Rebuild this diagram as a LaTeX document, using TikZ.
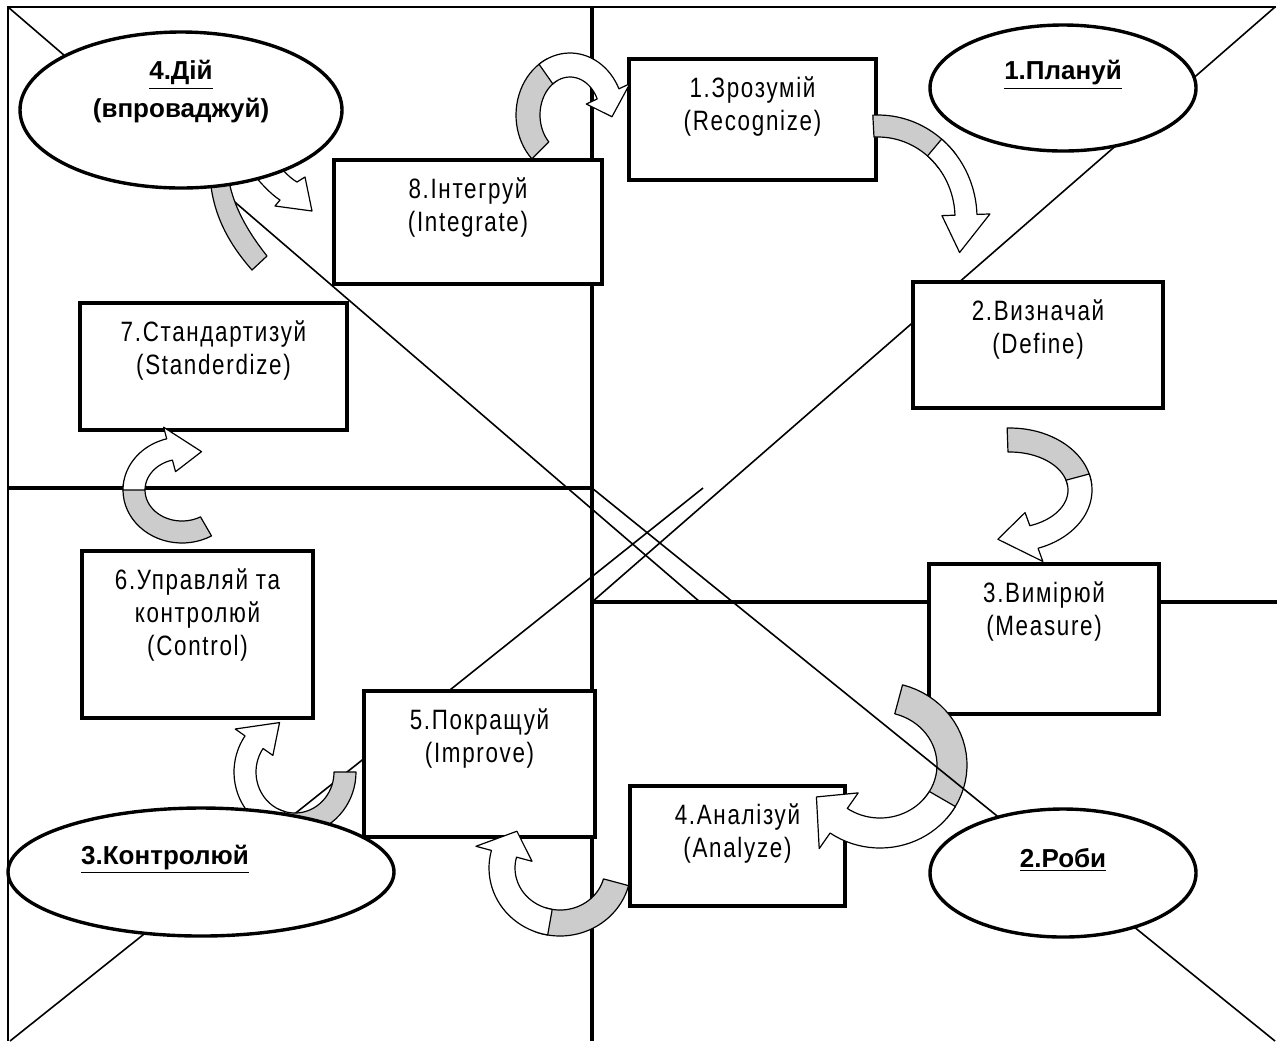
\documentclass[tikz,border=0pt]{standalone}
\usepackage{fontspec}
\setmainfont{Liberation Sans}
\newfontfamily\boxfont[FakeStretch=0.8,LetterSpace=6]{Liberation Sans}
\usepackage{xcolor}
\usetikzlibrary{shapes.geometric, positioning}
\definecolor{twist}{gray}{0.8}
\newcommand\bw{12}
\newcommand\hw{24}
% centre x, centre y, radius x, radius y, start, grey end, white start, head base, tip
\newcommand\curlarrow[9]{%
  \filldraw[band, fill=twist]
    plot[domain=#5:#6] ({#1+(#3+\bw)*cos(\x)},{#2+(#4+\bw)*sin(\x)})
    -- plot[domain=#6:#5] ({#1+(#3-\bw)*cos(\x)},{#2+(#4-\bw)*sin(\x)}) -- cycle;
  \filldraw[band, fill=white]
    plot[domain=#7:#8] ({#1+(#3+\bw)*cos(\x)},{#2+(#4+\bw)*sin(\x)})
    -- ({#1+(#3+\hw)*cos(#8)},{#2+(#4+\hw)*sin(#8)})
    -- ({#1+#3*cos(#9)},{#2+#4*sin(#9)})
    -- ({#1+(#3-\hw)*cos(#8)},{#2+(#4-\hw)*sin(#8)})
    -- plot[domain=#8:#7] ({#1+(#3-\bw)*cos(\x)},{#2+(#4-\bw)*sin(\x)}) -- cycle;
}

\begin{document}
\begin{tikzpicture}[
  x=0.5pt, y=-0.5pt,
  divider/.style={line width=1.6pt},
  hair/.style={line width=0.8pt},
  band/.style={draw, line width=0.6pt, line join=round},
  blk/.style={rectangle, draw, line width=1.9pt, fill=white, inner sep=0pt},
  oval/.style={ellipse, draw, line width=1.7pt, fill=white, inner sep=0pt},
  blktext/.style={font=\boxfont\fontsize{14}{16.5}\selectfont, align=center, inner sep=0pt},
  ovaltext/.style={font=\bfseries\fontsize{13}{19}\selectfont, align=center, inner sep=0pt}
]
\useasboundingbox (0,0) rectangle (1277,1041);

\coordinate (tl) at (8,7);
\coordinate (tr) at (1276,7);
\coordinate (bl) at (8,1041);
\coordinate (mt) at (592,7);
\coordinate (mb) at (592,1041);
\coordinate (ml) at (8,488);
\coordinate (mc) at (592,488);
\coordinate (mr) at (1277,602);
\coordinate (md) at (592,602);

\draw[line width=0.6pt] (tr) -- (tl) -- (bl);
\draw[divider] (mt) -- (mb);
\draw[divider] (ml) -- (mc);
\draw[divider] (md) -- (mr);
\draw[hair] (tl) -- (700,602);
\draw[hair] (703,488) -- (10,1041);
\draw[hair] (md) -- (1275,7);

\node[blk, minimum width=123.5pt, minimum height=60.5pt] (b1) at (752.5,119.5) {};
\node[blk, minimum width=125pt, minimum height=63pt] (b2) at (1038,345) {};
\node[blk, minimum width=115pt, minimum height=75pt] (b3) at (1044,639) {};
\node[blk, minimum width=107.5pt, minimum height=60pt] (b4) at (737.5,846) {};
\node[blk, minimum width=115.5pt, minimum height=73pt] (b5) at (479.5,764) {};
\node[blk, minimum width=115.5pt, minimum height=83.5pt] (b6) at (197.5,634.5) {};
\node[blk, minimum width=133.5pt, minimum height=63.5pt] (b7) at (213.5,366.5) {};
\node[blk, minimum width=134pt, minimum height=62pt] (b8) at (468,222) {};

\node[blktext, below=9.5pt of b1.north] (t1) {1.Зрозумій\\(Recognize)};
\node[blktext, below=9.5pt of b2.north] (t2) {2.Визначай\\(Define)};
\node[blktext, below=9.5pt of b3.north] (t3) {3.Вимірюй\\(Measure)};
\node[blktext, below=9.5pt of b4.north] (t4) {4.Аналізуй\\(Analyze)};
\node[blktext, below=9.5pt of b5.north] (t5) {5.Покращуй\\(Improve)};
\node[blktext, below=9.5pt of b6.north] (t6) {6.Управляй та\\контролюй\\(Control)};
\node[blktext, below=9.5pt of b7.north] (t7) {7.Стандартизуй\\(Standerdize)};
\node[blktext, below=9.5pt of b8.north] (t8) {8.Інтегруй\\(Integrate)};

\curlarrow{570}{115}{42}{50}{135}{245}{235}{335}{362}
\renewcommand\bw{11}
\curlarrow{878}{218}{88}{92}{267}{322}{310}{358}{382}
\renewcommand\bw{12}\renewcommand\hw{26}
\curlarrow{1010}{490}{70}{50}{268}{355}{345}{430}{460}
\renewcommand\bw{15}\renewcommand\hw{34}
\curlarrow{880}{765}{72}{68}{285}{400}{390}{485}{512}
\renewcommand\bw{13}\renewcommand\hw{29}
\curlarrow{560}{868}{58}{55}{15}{110}{100}{195}{222}
\renewcommand\bw{11}\renewcommand\hw{23}
\curlarrow{295}{772}{50}{52}{0}{115}{105}{215}{252}
\curlarrow{182}{490}{48}{42}{60}{190}{180}{255}{294}
\filldraw[band, fill=twist] (210,175) .. controls (212,215) and (230,245) .. (252,270)
  -- (267,256) .. controls (248,232) and (232,205) .. (228,175) -- cycle;
\filldraw[band, fill=white] (250,170) .. controls (262,185) and (272,195) .. (280,200)
  -- (275,206) -- (312,211) -- (305,177) -- (297,182)
  .. controls (290,178) and (282,170) .. (275,160) -- cycle;

\draw[hair] (mc) -- (1275,1041);

\node[oval, minimum width=133pt, minimum height=63pt] (e1) at (1063,88) {};
\node[oval, minimum width=133pt, minimum height=64pt] (e2) at (1063,873) {};
\node[oval, minimum width=193pt, minimum height=64pt] (e3) at (201,872) {};
\node[oval, minimum width=161pt, minimum height=78pt] (e4) at (181,110) {};

\node[ovaltext] (l1) at ([yshift=6.5pt]e1.center) {\underline{1.Плануй}};
\node[ovaltext] (l2) at ([yshift=6.5pt]e2.center) {\underline{2.Роби}};
\node[ovaltext] (l3) at ([xshift=-18pt, yshift=6.5pt]e3.center) {\underline{3.Контролюй}};
\node[ovaltext] (l4) at ([yshift=9pt]e4.center) {\underline{4.Дій}\\(впроваджуй)};
\end{tikzpicture}
\end{document}
